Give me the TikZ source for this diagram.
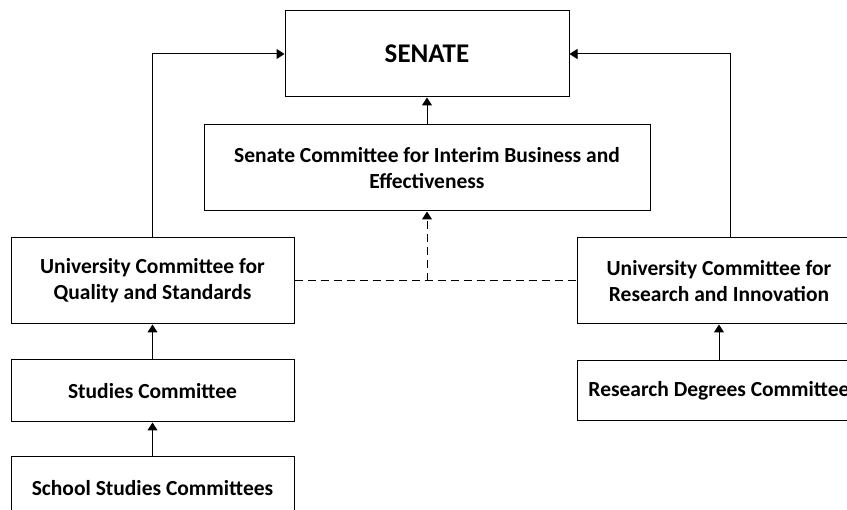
\documentclass[tikz,border=0pt]{standalone}
\usepackage{fontspec}
\setmainfont{Carlito}
\usetikzlibrary{arrows.meta,positioning}

\tikzset{
  unit/.style={draw=black, line width=1pt, align=center, inner sep=0pt,
    font=\bfseries\fontsize{21.5}{26}\selectfont},
  link/.style={line width=1pt, -{Triangle[length=8pt,width=10pt]}},
  loose/.style={link, dash pattern=on 8pt off 5pt}
}

\begin{document}
\begin{tikzpicture}[x=1pt,y=-1pt]
\useasboundingbox (0,0) rectangle (847,510);
\clip (0,0) rectangle (847,510);
% top of the tree
\node[unit, minimum width=284pt, minimum height=86pt,
  font=\bfseries\fontsize{27}{32}\selectfont] (senate) at (427,54) {SENATE};
\node[unit, minimum width=446pt, minimum height=86pt] (scib) at (427,168)
  {Senate Committee for Interim Business and\\Effectiveness};
% left branch
\node[unit, minimum width=283pt, minimum height=86pt] (ucqs) at (152.5,281)
  {University Committee for\\Quality and Standards};
\node[unit, minimum width=283pt, minimum height=62pt] (studies) at (152.5,391)
  {Studies Committee};
\node[unit, minimum width=283pt, minimum height=62pt] (school) at (152.5,488)
  {School Studies Committees};
% right branch
\node[unit, minimum width=284pt, minimum height=86pt] (ucri) at (719,281)
  {University Committee for\\Research and Innovation};
\node[unit, minimum width=284pt, minimum height=60pt] (rdc) at (719,391)
  {Research Degrees Committee};
\coordinate (ucritop) at ([xshift=11pt]ucri.north);
\coordinate (meet) at (scib.south |- ucqs.east);

\draw[link] (scib) -- (senate);
\draw[link] (ucqs.north) |- (senate.west);
\draw[link] (ucritop) |- (senate.east);
\draw[link] (studies) -- (ucqs);
\draw[link] (school) -- (studies);
\draw[link] (rdc) -- (ucri);
\draw[line width=1pt, dash pattern=on 8pt off 5pt] (ucqs.east) -- (ucri.west);
\draw[loose] (meet) -- (scib.south);
\end{tikzpicture}
\end{document}
